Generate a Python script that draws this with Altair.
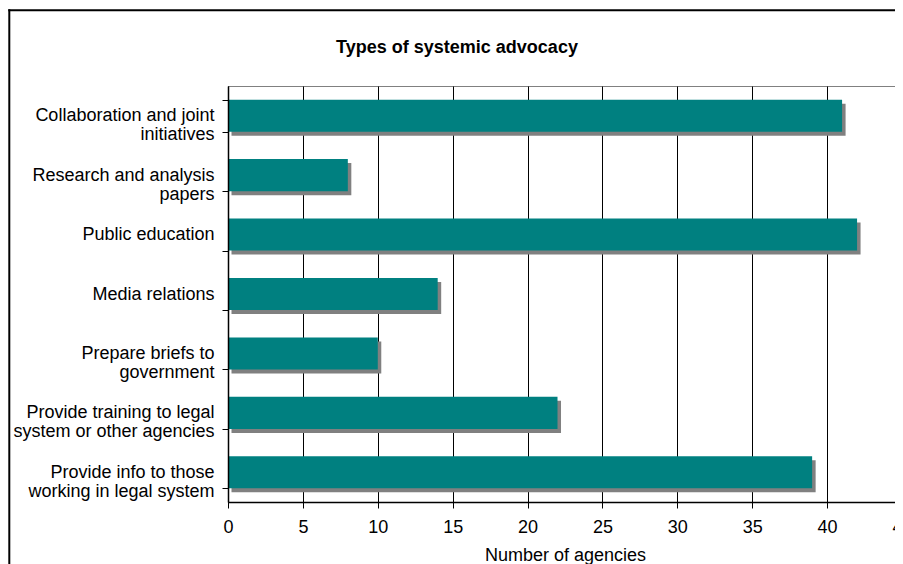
import altair as alt
import pandas as pd

categories = [
    "Collaboration and joint|initiatives",
    "Research and analysis|papers",
    "Public education",
    "Media relations",
    "Prepare briefs to|government",
    "Provide training to legal|system or other agencies",
    "Provide info to those|working in legal system",
]
values = [41, 8, 42, 14, 10, 22, 39]
x_ticks = [0, 5, 10, 15, 20, 25, 30, 35, 40, 45]

df = pd.DataFrame({"category": categories, "agencies": values})

FONT = "Liberation Sans"

y_enc = alt.Y(
    "category:N",
    sort=categories,
    scale=alt.Scale(paddingInner=0.46, paddingOuter=0.23),
    axis=alt.Axis(
        title=None,
        labelExpr="split(datum.label, '|')",
        labelFont=FONT,
        labelFontSize=18,
        labelColor="black",
        labelLineHeight=19,
        labelLimit=400,
        labelPadding=8,
        tickBand="extent",
        tickSize=6,
        tickColor="black",
        domainColor="black",
        domainWidth=1.5,
        grid=False,
        zindex=1,
    ),
)

x_enc = alt.X(
    "agencies:Q",
    scale=alt.Scale(domain=[0, 45], nice=False),
    axis=alt.Axis(
        values=x_ticks,
        title="Number of agencies",
        titleFont=FONT,
        titleFontSize=18,
        titleFontWeight="normal",
        titleColor="black",
        titleBaseline="alphabetic",
        titleY=58,
        titleX=337,
        labelFont=FONT,
        labelFontSize=18,
        labelColor="black",
        labelBaseline="alphabetic",
        labelPadding=24,
        labelOverlap=False,
        labelFlush=False,
        tickSize=6,
        tickColor="black",
        domainColor="black",
        domainWidth=1.5,
        grid=True,
        gridColor=alt.condition("datum.value == 45", alt.value("#808080"), alt.value("#000000")),
        gridWidth=1,
    ),
)

shadow = alt.Chart(df).mark_bar(
    color="#808080", xOffset=3.5, x2Offset=3.5, yOffset=4
).encode(x=x_enc, y=y_enc)

bars = alt.Chart(df).mark_bar(color="#008080").encode(x=x_enc, y=y_enc)

blank = alt.Data(values=[{}])

title_text = alt.Chart(blank).mark_text(
    text="Types of systemic advocacy",
    font=FONT,
    fontSize=18,
    fontWeight="bold",
    color="black",
    align="center",
    baseline="alphabetic",
).encode(x=alt.value(229), y=alt.value(-33.3))

border_left = alt.Chart(blank).mark_rule(color="black", strokeWidth=2).encode(
    x=alt.value(-218.7), y=alt.value(-76.7), y2=alt.value(480)
)
border_top = alt.Chart(blank).mark_rule(color="black", strokeWidth=2).encode(
    x=alt.value(-219.7), x2=alt.value(700), y=alt.value(-75.7)
)

chart = (
    alt.layer(shadow, bars, title_text, border_left, border_top)
    .properties(
        width=674,
        height=416,
        autosize=alt.AutoSizeParams(type="none"),
        padding={"left": 220, "top": 78, "right": -7, "bottom": 62},
        background="white",
    )
    .configure_view(stroke="#808080", strokeWidth=1)
)

chart.save("out.html", embed_options={"renderer": "svg", "actions": False})
